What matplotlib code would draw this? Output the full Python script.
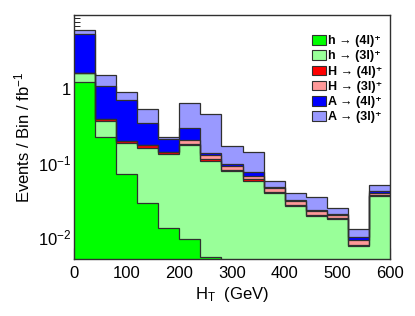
import numpy as np
import matplotlib
matplotlib.use("Agg")
import matplotlib.pyplot as plt
from matplotlib.patches import Patch

plt.rcParams['font.family'] = ['Liberation Sans', 'DejaVu Sans']
plt.rcParams['mathtext.default'] = 'regular'

# ---- data (per-process contributions, events / bin / fb^-1) ----
edges = np.arange(0, 640, 40)  # 0..600 in 40 GeV bins
h_4l = [1.24, 0.224, 0.0704, 0.0282, 0.0131, 0.0093, 0.0054, 0, 0, 0, 0, 0, 0, 0, 0]
h_3l = [0.40, 0.146, 0.115, 0.130, 0.118, 0.166, 0.1006, 0.078, 0.0571, 0.0385, 0.026, 0.019, 0.0174, 0.00744, 0.0352]
H_4l = [0.01, 0.023, 0.013, 0.017, 0.011, 0.007, 0.005, 0.003, 0.0024, 0.0015, 0.0011, 0.0008, 0.0007, 0.0003, 0.0012]
H_3l = [0.01, 0.0, 0.0, 0.0, 0.0, 0.021, 0.016, 0.011, 0.0066, 0.0055, 0.0029, 0.0022, 0.0014, 0.0013, 0.0029]
A_4l = [3.88, 0.70, 0.51, 0.169, 0.069, 0.097, 0.008, 0.004, 0.0095, 0.0019, 0.0013, 0.0008, 0.0008, 0.0008, 0.0022]
A_3l = [0.73, 0.44, 0.21, 0.188, 0.014, 0.353, 0.329, 0.072, 0.0664, 0.0088, 0.0072, 0.0119, 0.0041, 0.0029, 0.0089]

series = [h_4l, h_3l, H_4l, H_3l, A_4l, A_3l]
labels = ["h → (4l)⁺", "h → (3l)⁺", "H → (4l)⁺",
          "H → (3l)⁺", "A → (4l)⁺", "A → (3l)⁺"]
colors = ['#00ff00', '#99ff99', '#ff0000', '#ff9999', '#0000ff', '#9999ff']

fig = plt.figure(figsize=(4.15, 3.16), dpi=100)
ax = fig.add_axes([74/415, 1-259/316, 316/415, 244/316])
ax.set_yscale('log')
ax.set_xlim(0, 600)
ax.set_ylim(0.005, 10)
ax.set_axisbelow(True)

cum = np.cumsum(np.array(series, dtype=float), axis=0)
floor = 1e-4
for i in range(len(series) - 1, -1, -1):
    vals = np.where(cum[i] <= 0, floor, cum[i])
    ax.stairs(vals, edges, baseline=floor, fill=True, color=colors[i], lw=0, zorder=1 + 0.01 * (6 - i))
for i in range(len(series)):
    vals = np.where(cum[i] <= 0, floor, cum[i])
    ax.stairs(vals, edges, baseline=None, fill=False, color='#303030', lw=0.9, zorder=2)

ax.set_yticks([0.01, 0.1, 1])
ax.set_yticklabels([r"$10^{-2}$", r"$10^{-1}$", "1"])
ax.set_xticks([0, 100, 200, 300, 400, 500, 600])
ax.tick_params(axis='both', which='both', direction='in', labelsize=12)
ax.tick_params(axis='y', which='major', length=8, pad=2)
ax.tick_params(axis='y', which='minor', length=4)
ax.tick_params(axis='x', which='major', length=8, pad=5)
for s in ax.spines.values():
    s.set_color('#303030')
    s.set_linewidth(1.0)

ax.set_ylabel(r"Events / Bin / fb$^{-1}$", fontsize=12, labelpad=4)
ax.set_xlabel(r"H$_{T}$  (GeV)", fontsize=12, labelpad=3)

handles = [Patch(facecolor=c, edgecolor='#303030', lw=0.8) for c in colors]
leg = fig.legend(handles, labels, loc='upper left', bbox_to_anchor=(312/415, 1-35/316),
                 frameon=False, borderpad=0, borderaxespad=0, handlelength=1.1,
                 handleheight=0.8, handletextpad=0.2, labelspacing=0.25,
                 prop={'size': 9, 'weight': 'bold'})

fig.savefig("out.png", dpi=100)
